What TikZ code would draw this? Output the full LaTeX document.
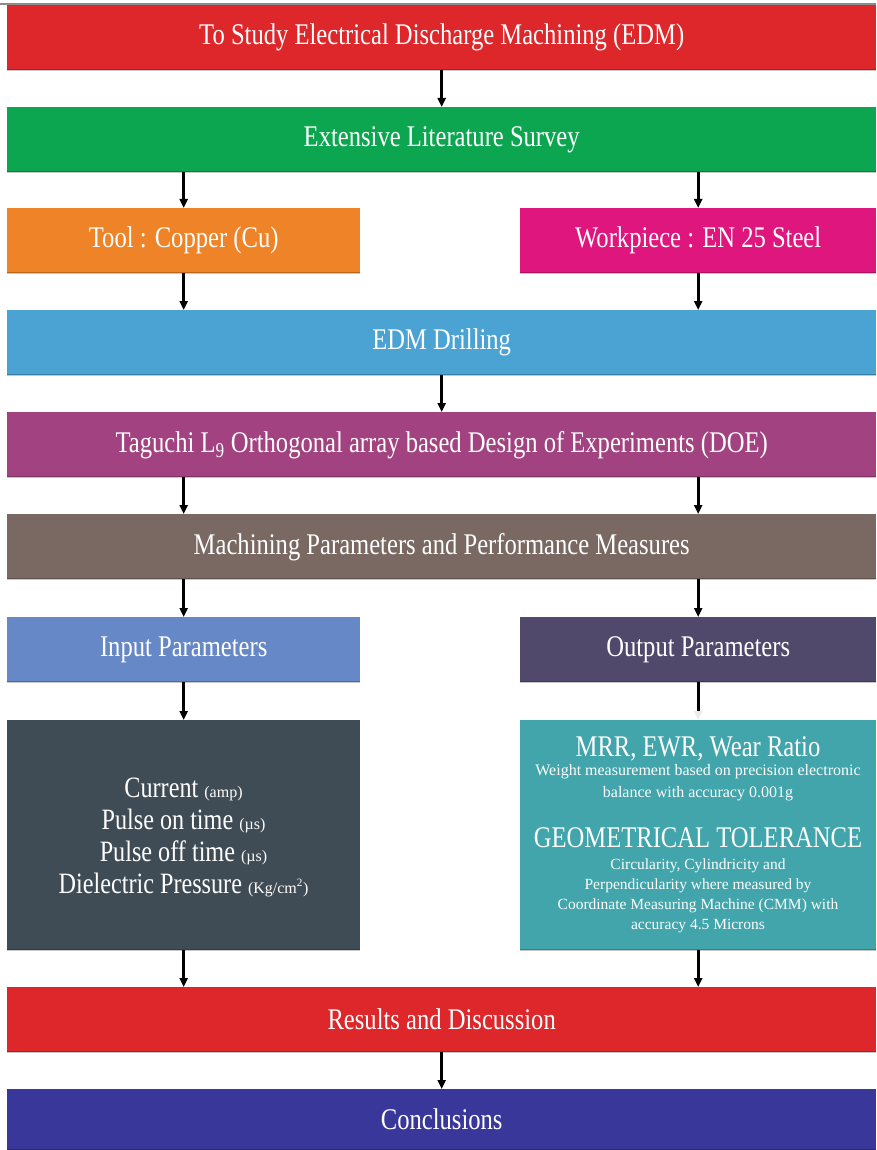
\documentclass[tikz,border=0pt]{standalone}
\usepackage{fontspec}
\setmainfont{Liberation Serif}[FakeStretch=0.82]
\newfontfamily\notefont{Liberation Serif}
\usetikzlibrary{arrows.meta,calc}

\definecolor{cRed}{RGB}{221,39,42}
\definecolor{cGreen}{RGB}{12,166,80}
\definecolor{cOrange}{RGB}{238,131,40}
\definecolor{cPink}{RGB}{224,22,127}
\definecolor{cSky}{RGB}{74,163,211}
\definecolor{cPlum}{RGB}{162,66,128}
\definecolor{cBrown}{RGB}{122,104,98}
\definecolor{cPeri}{RGB}{102,136,198}
\definecolor{cDusk}{RGB}{81,73,107}
\definecolor{cSlate}{RGB}{64,76,85}
\definecolor{cTeal}{RGB}{65,165,171}
\definecolor{cNavy}{RGB}{58,55,154}

\newcommand{\unitnote}[1]{{\notefont\fontsize{16}{16}\selectfont #1}}

\begin{document}
\begin{tikzpicture}[x=1pt,y=-1pt,
  band/.style={anchor=north west, inner sep=0pt, text=white,
    font=\fontsize{30}{34}\selectfont, minimum height=65pt,
    path picture={\draw[line width=3pt, black, opacity=0.22]
      (path picture bounding box.south west) -- (path picture bounding box.south east);}},
  full/.style={band, minimum width=869pt},
  lhalf/.style={band, minimum width=353pt},
  rhalf/.style={band, minimum width=356pt},
  tall/.style={band, minimum height=230pt},
  txt/.style={text=white, inner sep=0pt, align=center},
  flow/.style={line width=2.6pt, -{Triangle[length=9pt,width=8pt]}},
  faint/.style={line width=2.6pt, -{Triangle[length=9pt,width=8pt,color=white!92!black]}}
]
\useasboundingbox[fill=white] (0,0) rectangle (876,1150);
\fill[black!45] (0,3.5) rectangle (876,5);

% main stages
\node[full, fill=cRed]    (aim)   at (7,5)   {To Study Electrical Discharge Machining (EDM)};
\node[full, fill=cGreen]  (lit)   at (7,107) {Extensive Literature Survey};
\node[lhalf, fill=cOrange](tool)  at (7,208) {Tool : Copper (Cu)};
\node[rhalf, fill=cPink]  (work)  at (520,208) {Workpiece : EN 25 Steel};
\node[full, fill=cSky]    (drill) at (7,310) {EDM Drilling};
\node[full, fill=cPlum]   (doe)   at (7,412) {Taguchi L\textsubscript{9} Orthogonal array based Design of Experiments (DOE)};
\node[full, fill=cBrown]  (mach)  at (7,514) {Machining Parameters and Performance Measures};
\node[lhalf, fill=cPeri]  (inp)   at (7,617) {Input Parameters};
\node[rhalf, fill=cDusk]  (outp)  at (520,617) {Output Parameters};
\node[lhalf, tall, fill=cSlate] (inbox)  at (7,720) {};
\node[rhalf, tall, fill=cTeal]  (outbox) at (520,720) {};
\node[full, fill=cRed]    (res)   at (7,987) {Results and Discussion};
\node[full, fill=cNavy, minimum height=61pt] (conc) at (7,1089) {Conclusions};

% input parameter list
\node[txt, font=\fontsize{29.5}{32}\selectfont] (inlist) at (183.5,837)
  {Current \unitnote{(amp)}\\
   Pulse on time \unitnote{(µs)}\\
   Pulse off time \unitnote{(µs)}\\
   Dielectric Pressure \unitnote{(Kg/cm\textsuperscript{2})}};

% output measures
\node[txt, font=\fontsize{30}{32}\selectfont] (mrr) at (698,749) {MRR, EWR, Wear Ratio};
\node[txt, font=\notefont\fontsize{16}{22}\selectfont] (wt) at (698,783)
  {Weight measurement based on precision electronic\\ balance with accuracy 0.001g};
\node[txt, font=\fontsize{30}{32}\selectfont] (geo) at (698,838) {GEOMETRICAL TOLERANCE};
\node[txt, font=\notefont\fontsize{15.5}{20}\selectfont] (circ) at (698,896)
  {Circularity, Cylindricity and\\ Perpendicularity where measured by\\
   Coordinate Measuring Machine (CMM) with\\ accuracy 4.5 Microns};

% connectors
\draw[flow] (aim.south) -- (lit.north);
\draw[flow] (tool.north |- lit.south) -- (tool.north);
\draw[flow] (work.north |- lit.south) -- (work.north);
\draw[flow] (tool.south) -- (tool.south |- drill.north);
\draw[flow] (work.south) -- (work.south |- drill.north);
\draw[flow] (drill.south) -- (doe.north);
\draw[flow] (inp.north |- doe.south) -- (inp.north |- mach.north);
\draw[flow] (outp.north |- doe.south) -- (outp.north |- mach.north);
\draw[flow] (inp.north |- mach.south) -- (inp.north);
\draw[flow] (outp.north |- mach.south) -- (outp.north);
\draw[flow] (inp.south) -- (inbox.north);
\draw[faint] (outp.south) -- (outbox.north);
\draw[flow] (inbox.south) -- (inbox.south |- res.north);
\draw[flow] (outbox.south) -- (outbox.south |- res.north);
\draw[flow] (res.south) -- (conc.north);
\end{tikzpicture}
\end{document}
